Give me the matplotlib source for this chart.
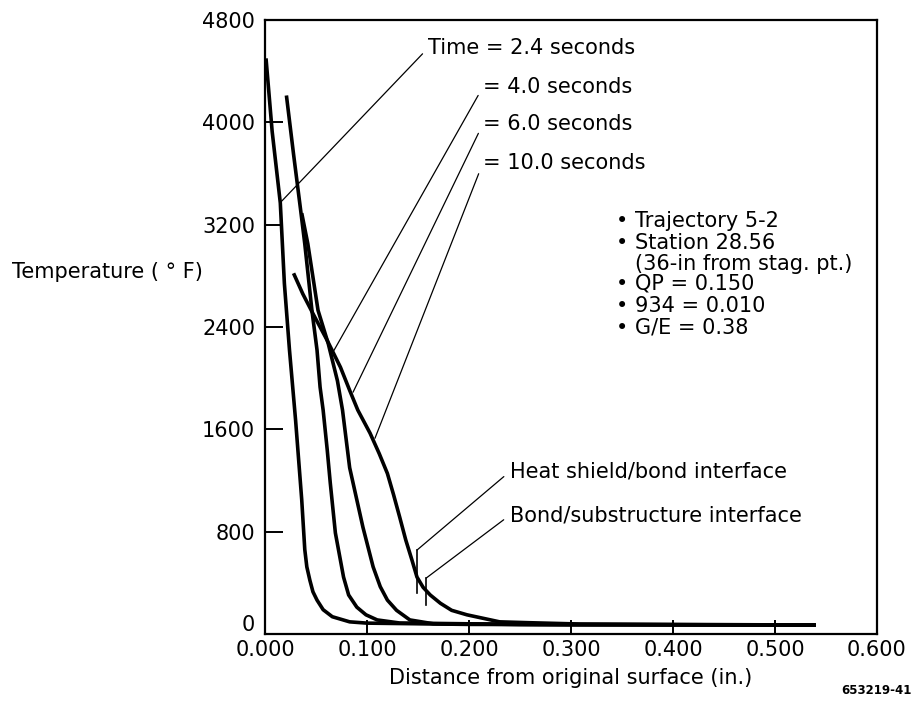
import matplotlib
matplotlib.use("Agg")
import matplotlib.pyplot as plt
from matplotlib.transforms import ScaledTranslation

# === Data ===
dist_24 = [0.001, 0.007, 0.015, 0.019, 0.024, 0.030, 0.036, 0.039, 0.041, 0.044, 0.047, 0.051, 0.057, 0.066, 0.083, 0.100, 0.200, 0.540]
temp_24 = [4500, 3930, 3370, 2740, 2220, 1670, 1050, 660, 525, 420, 330, 265, 190, 135, 95, 85, 75, 70]

dist_40 = [0.021, 0.028, 0.035, 0.039, 0.046, 0.051, 0.054, 0.057, 0.061, 0.064, 0.069, 0.077, 0.082, 0.090, 0.099, 0.110, 0.132, 0.250, 0.540]
temp_40 = [4210, 3750, 3310, 3050, 2530, 2220, 1930, 1750, 1440, 1180, 790, 445, 305, 210, 150, 110, 86, 75, 70]

dist_60 = [0.036, 0.042, 0.052, 0.062, 0.071, 0.076, 0.083, 0.096, 0.106, 0.113, 0.120, 0.129, 0.142, 0.165, 0.300, 0.540]
temp_60 = [3290, 3050, 2530, 2270, 1980, 1750, 1300, 835, 525, 370, 265, 185, 110, 80, 72, 70]

dist_100 = [0.028, 0.037, 0.047, 0.061, 0.074, 0.083, 0.091, 0.103, 0.112, 0.120, 0.126, 0.132, 0.138, 0.144, 0.149, 0.155, 0.162, 0.172, 0.183, 0.198, 0.230, 0.260, 0.309, 0.540]
temp_100 = [2820, 2660, 2505, 2295, 2085, 1905, 1750, 1570, 1410, 1255, 1090, 915, 735, 580, 445, 365, 305, 240, 185, 150, 95, 88, 78, 70]

x_ticks = [0.0, 0.1, 0.2, 0.3, 0.4, 0.5, 0.6]
x_tick_labels = ["0.000", "0.100", "0.200", "0.300", "0.400", "0.500", "0.600"]
y_ticks = [0, 800, 1600, 2400, 3200, 4000, 4800]
y_tick_labels = ["0", "800", "1600", "2400", "3200", "4000", "4800"]

# time labels: text, point on curve, text anchor
time_labels = ["Time = 2.4 seconds", "= 4.0 seconds", "= 6.0 seconds", "= 10.0 seconds"]
time_points = [(0.0147, 3370), (0.0676, 2217), (0.0863, 1890), (0.1078, 1530)]
time_text_pos = [(0.160, 4582), (0.2137, 4277), (0.2137, 3988), (0.2137, 3684)]

# interface markers: x, bottom T, top T
interface_labels = ["Heat shield/bond interface", "Bond/substructure interface"]
interface_x = [0.149, 0.158]
interface_lo = [320, 226]
interface_hi = [656, 437]
interface_text_pos = [(0.240, 1270), (0.240, 929)]

notes = ["Trajectory 5-2", "Station 28.56", "(36-in from stag. pt.)", "QP = 0.150", "934 = 0.010", "G/E = 0.38"]
note_bullet = [True, True, False, True, True, True]
note_y = [3231, 3060, 2896, 2740, 2568, 2396]

# === Plot ===
plt.rcParams["font.family"] = "DejaVu Sans"

fig = plt.figure(figsize=(9.15, 7.04), dpi=100)
ax = fig.add_axes([265 / 915, 1 - 634 / 704, (877 - 265) / 915, (634 - 20) / 704])

curve_lw = 2.6
for xs, ys in [(dist_24, temp_24), (dist_40, temp_40), (dist_60, temp_60), (dist_100, temp_100)]:
    ax.plot(xs, ys, color="black", lw=curve_lw, solid_capstyle="butt", solid_joinstyle="round")

for xi, lo, hi in zip(interface_x, interface_lo, interface_hi):
    ax.plot([xi, xi], [lo, hi], color="black", lw=1.2)

for txt, pt, pos in zip(time_labels, time_points, time_text_pos):
    ax.annotate(txt, xy=pt, xytext=pos, fontsize=15, ha="left", va="center",
                arrowprops=dict(arrowstyle="-", lw=0.9, color="black",
                                shrinkA=3, shrinkB=0, relpos=(0, 0.5)))

for txt, xi, hi, pos in zip(interface_labels, interface_x, interface_hi, interface_text_pos):
    ax.annotate(txt, xy=(xi, hi), xytext=pos, fontsize=15, ha="left", va="center",
                arrowprops=dict(arrowstyle="-", lw=0.9, color="black",
                                shrinkA=3, shrinkB=0, relpos=(0, 0.5)))

for txt, bullet, yv in zip(notes, note_bullet, note_y):
    if bullet:
        ax.text(0.350, yv, "\u2022", fontsize=15, ha="center", va="center")
    ax.text(0.3627, yv, txt, fontsize=15, ha="left", va="center")

ax.set_xlim(0, 0.6)
ax.set_ylim(0, 4800)
ax.set_xticks(x_ticks)
ax.set_xticklabels(x_tick_labels)
ax.set_yticks(y_ticks)
ax.set_yticklabels(y_tick_labels)
ax.tick_params(axis="x", direction="in", length=10, width=1.4, labelsize=15, pad=4)
ax.tick_params(axis="y", direction="in", length=13, width=1.4, labelsize=15, pad=7)
for s in ax.spines.values():
    s.set_linewidth(1.6)

# the "0" label sits a little above the axis line
zero_lbl = ax.get_yticklabels()[0]
zero_lbl.set_transform(zero_lbl.get_transform() + ScaledTranslation(0, 8 / 72, fig.dpi_scale_trans))

ax.set_xlabel("Distance from original surface (in.)", fontsize=15, labelpad=6)
fig.text(12 / 915, 1 - 272 / 704, "Temperature ( \u00b0 F)", fontsize=15, ha="left", va="center")
fig.text(912 / 915, 1 - 690 / 704, "653219-41", fontsize=8.5, fontweight="bold", ha="right", va="center")

plt.savefig("out.png", dpi=100)
plt.close()
